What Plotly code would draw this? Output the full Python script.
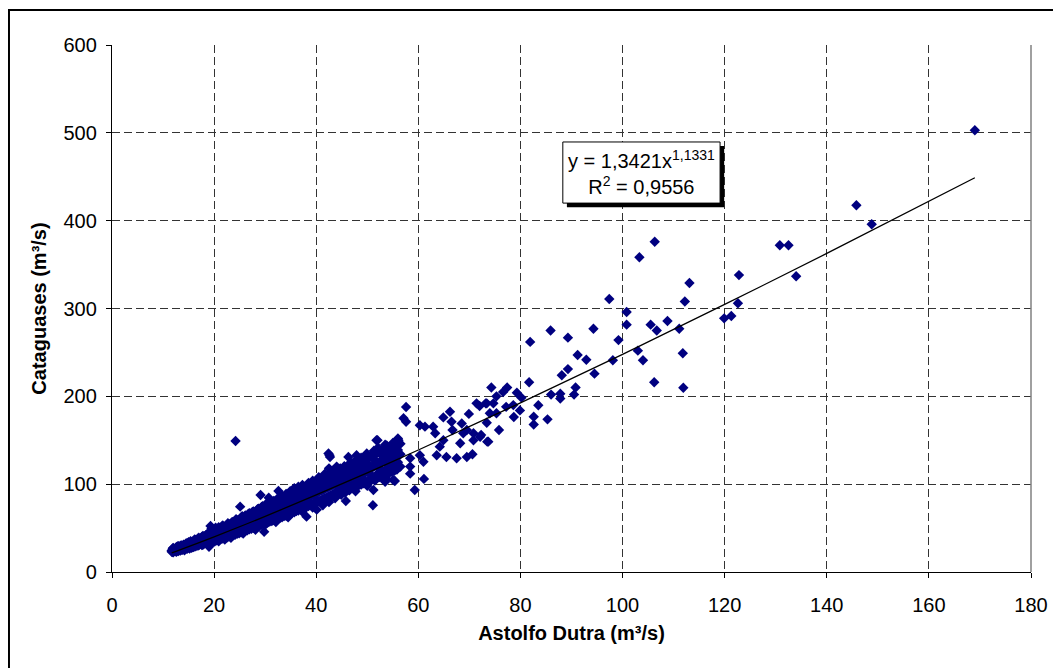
import plotly.graph_objects as go

# nuvem densa: vazão em Astolfo Dutra e as vazões lidas em Cataguases para cada uma
astolfo_nuvem = [
    11.7, 12.0, 12.4, 12.8, 13.2, 13.6, 14.0, 14.5, 15.0, 15.4, 15.8, 16.2, 16.6,
    17.0, 17.4, 17.8, 18.2, 18.6, 19.0, 19.3, 19.7, 20.1, 20.5, 20.9, 21.3, 21.7,
    22.1, 22.5, 22.9, 23.3, 23.7, 24.1, 24.5, 24.9, 25.3, 25.7, 26.1, 26.5, 26.9,
    27.3, 27.7, 28.1, 28.5, 28.9, 29.3, 29.7, 30.1, 30.5, 30.9, 31.3, 31.7, 32.1,
    32.5, 32.9, 33.3, 33.7, 34.1, 34.5, 34.9, 35.3, 35.7, 36.1, 36.5, 36.9, 37.3,
    37.7, 38.1, 38.5, 38.9, 39.3, 39.7, 40.1, 40.5, 40.9, 41.3, 41.7, 42.1, 42.5,
    42.9, 43.3, 43.7, 44.1, 44.5, 44.9, 45.3, 45.7, 46.1, 46.5, 46.9, 47.3, 47.7,
    48.1, 48.5, 49.0, 49.5, 50.0, 50.5, 51.0, 51.5, 52.0, 52.5, 53.0, 53.5, 54.0,
    54.5, 55.0, 55.5, 56.0, 56.5,
]
cataguases_nuvem = [
    [23.1, 24.5], [22.5, 25.8, 27.5], [23.8, 26.5], [24.6, 27.9, 29.0], [25.0, 28.3],
    [25.5, 27.0, 30.1], [26.2, 28.8, 31.0], [27.4, 30.2, 32.5], [27.9, 31.0, 33.8],
    [29.2, 32.6, 35.0], [28.7, 31.8, 34.4], [30.3, 33.5, 37.0], [31.1, 34.2, 36.1],
    [30.5, 33.0, 35.8, 39.0], [32.4, 35.1, 38.2], [31.0, 34.7, 37.5, 41.0],
    [33.1, 36.9, 40.3], [32.8, 35.5, 39.2, 43.0], [28.8, 34.4, 37.8, 41.5],
    [35.2, 39.5, 45.0, 52.4], [33.9, 36.6, 40.8, 44.0], [34.8, 38.1, 42.0, 47.5],
    [36.0, 39.4, 43.3, 49.0], [35.0, 40.2, 44.6, 51.0], [37.5, 41.1, 45.2],
    [38.2, 42.3, 46.8, 53.0], [37.0, 43.0, 47.6, 50.2], [39.3, 44.2, 48.8],
    [40.5, 45.0, 49.9, 54.5], [39.0, 46.3, 51.0], [41.8, 47.1, 52.2, 57.0],
    [42.4, 48.0, 53.5], [43.5, 49.2, 54.6, 59.0], [44.0, 50.3, 56.0],
    [45.1, 51.2, 57.3, 62.0], [43.8, 52.4, 58.5], [46.9, 53.0, 59.6, 64.5],
    [47.5, 54.1, 60.2], [48.6, 55.3, 61.8, 67.0], [49.2, 56.6, 63.0],
    [50.3, 57.4, 64.1, 69.0], [48.0, 58.5, 65.2], [51.5, 59.3, 66.4, 71.5],
    [52.6, 60.6, 67.0], [53.7, 61.4, 68.8, 74.0], [55.0, 62.5, 70.1],
    [54.2, 63.8, 71.0, 77.0], [56.4, 64.4, 72.3], [57.5, 65.7, 73.0, 79.5],
    [58.0, 66.2, 74.6], [59.2, 67.8, 75.1, 81.0], [57.0, 68.5, 76.4],
    [60.5, 69.3, 77.8, 84.0], [61.8, 70.6, 78.5], [62.4, 71.2, 80.0, 86.5],
    [63.6, 72.8, 81.3], [64.0, 73.5, 82.0, 89.0], [62.2, 74.7, 83.6],
    [66.1, 75.4, 84.2, 92.0], [67.3, 76.8, 86.0], [68.0, 78.2, 87.1, 95.5],
    [69.4, 79.0, 88.0], [70.1, 80.3, 89.5, 97.0], [71.5, 81.6, 90.2],
    [68.5, 82.4, 91.8, 99.0], [73.0, 83.7, 92.5], [74.2, 84.5, 94.0],
    [75.0, 85.8, 95.2, 101.5], [76.3, 86.4, 96.0], [73.5, 87.9, 97.8, 104.0],
    [78.0, 88.6, 99.0], [71.0, 79.2, 90.0, 100.2], [80.5, 91.3, 102.0, 108.0],
    [81.2, 92.5, 103.5], [76.0, 82.7, 93.2, 98.0], [84.0, 95.0, 105.0, 112.0],
    [85.1, 96.2, 106.5], [79.5, 86.6, 97.4, 118.0], [87.5, 98.8, 108.0],
    [88.8, 100.0, 110.5, 101.0], [84.0, 90.1, 101.3], [91.0, 102.6, 113.0],
    [92.4, 103.0, 96.0, 115.5], [88.0, 94.0, 105.5], [95.2, 106.0, 118.0],
    [90.5, 97.0, 108.3], [98.1, 109.0, 121.0], [93.0, 100.0, 111.5],
    [101.2, 113.0, 124.0], [96.0, 103.0, 115.0], [104.5, 116.0, 92.0],
    [99.0, 106.0, 118.5], [107.5, 120.0, 129.0], [101.0, 110.0, 122.0],
    [104.0, 112.5, 126.0], [98.0, 114.0, 128.0], [106.0, 116.5, 121.0],
    [109.0, 119.0, 131.0], [104.0, 121.0, 127.0], [112.0, 124.0, 141.0],
    [108.0, 126.0, 118.0], [115.0, 128.0, 133.0], [111.0, 130.0, 145.0],
    [119.0, 125.0, 137.0], [114.0, 133.0, 128.0], [122.0, 136.0, 147.0],
    [117.0, 131.0, 143.0], [125.0, 139.0, 152.0], [120.0, 134.0, 146.0],
]

# segunda leitura da nuvem, entre as colunas da primeira
astolfo_nuvem2 = [
    11.9, 12.2, 12.6, 13.0, 13.4, 13.8, 14.2, 14.7, 15.2, 15.6, 16.0, 16.4, 16.8,
    17.2, 17.6, 18.0, 18.4, 18.8, 19.1, 19.5, 19.9, 20.3, 20.7, 21.1, 21.5, 21.9,
    22.3, 22.7, 23.1, 23.5, 23.9, 24.3, 24.7, 25.1, 25.5, 25.9, 26.3, 26.7, 27.1,
    27.5, 27.9, 28.3, 28.7, 29.1, 29.5, 29.9, 30.3, 30.7, 31.1, 31.5, 31.9, 32.3,
    32.7, 33.1, 33.5, 33.9, 34.3, 34.7, 35.1, 35.5, 35.9, 36.3, 36.7, 37.1, 37.5,
    37.9, 38.3, 38.7, 39.1, 39.5, 39.9, 40.3, 40.7, 41.1, 41.5, 41.9, 42.3, 42.7,
    43.1, 43.5, 43.9, 44.3, 44.7, 45.1, 45.5, 45.9, 46.3, 46.7, 47.1, 47.5, 47.9,
    48.3, 48.8, 49.3, 49.8, 50.3, 50.8, 51.3, 51.8, 52.3, 52.8, 53.3, 53.8, 54.3,
    54.8, 55.3, 55.8,
]
cataguases_nuvem2 = [
    [22.8, 25.0, 26.8], [24.2, 26.0], [22.9, 25.3, 28.2], [23.9, 26.7, 29.5],
    [24.4, 27.6, 30.0], [25.2, 28.5, 29.0], [24.8, 27.8, 30.8], [26.3, 29.4, 32.9],
    [26.8, 30.1, 33.1], [27.5, 31.5, 34.0], [28.4, 32.2, 35.6], [29.4, 33.0, 36.5],
    [30.0, 34.8, 38.0], [31.6, 35.5, 37.0], [30.8, 36.2, 39.8], [32.2, 37.4, 40.6],
    [33.9, 38.0, 42.0], [33.0, 38.6, 43.5], [34.2, 39.8, 44.2], [35.6, 41.0, 46.0, 49.5],
    [36.4, 42.4, 46.8], [37.1, 41.8, 45.9, 50.5], [36.6, 43.7, 48.0], [38.8, 44.4, 49.2],
    [39.6, 45.8, 48.1, 52.0], [40.2, 46.0, 51.3], [41.5, 47.4, 52.4],
    [42.0, 48.5, 51.7, 55.5], [43.2, 49.4, 53.6], [42.6, 48.4, 54.3, 56.8],
    [44.9, 50.9, 55.5], [45.3, 51.7, 56.3, 60.0], [46.5, 52.6, 57.8], [47.2, 53.8, 58.6],
    [48.0, 54.8, 60.1, 63.5], [49.1, 55.4, 61.0], [49.8, 56.9, 62.5],
    [50.6, 57.6, 63.3, 66.0], [51.3, 58.9, 64.2], [52.2, 59.7, 65.5, 68.5],
    [53.1, 60.5, 66.3], [54.3, 61.9, 67.5], [54.8, 62.7, 68.9, 72.0], [55.7, 63.5, 69.8],
    [56.6, 64.8, 70.5, 74.8], [57.4, 65.6, 71.7], [58.2, 66.9, 73.2],
    [59.3, 67.4, 74.0, 77.5], [59.9, 68.6, 75.3], [60.8, 69.5, 76.1, 80.0],
    [61.6, 70.4, 77.5], [62.5, 71.7, 78.4], [63.4, 72.5, 79.6, 83.0], [64.2, 73.4, 80.7],
    [65.1, 74.6, 81.8, 85.5], [66.0, 75.5, 82.9], [66.8, 76.4, 84.0],
    [67.7, 77.5, 85.2, 88.5], [68.6, 78.6, 86.3], [69.5, 79.6, 87.2, 91.0],
    [70.4, 80.5, 88.5], [71.2, 81.6, 89.6], [72.1, 82.6, 90.8, 94.0], [73.0, 83.5, 91.9],
    [73.9, 84.7, 93.0, 96.5], [74.8, 85.6, 94.1], [75.6, 86.6, 95.2],
    [76.5, 87.6, 96.4, 100.0], [77.5, 88.7, 97.5], [78.4, 89.8, 98.6, 102.5],
    [79.2, 90.7, 99.8], [80.1, 91.7, 100.9], [81.0, 92.8, 102.0, 106.0],
    [81.9, 93.8, 103.2], [82.8, 94.8, 104.3, 109.0], [83.7, 95.9, 105.5],
    [84.6, 96.9, 106.6], [85.5, 97.9, 107.8, 112.0], [86.4, 99.0, 108.9],
    [87.4, 100.0, 110.0, 114.5], [88.3, 101.1, 111.2], [89.2, 102.1, 112.3],
    [90.1, 103.2, 113.5, 118.0], [91.0, 104.2, 114.6], [92.0, 105.3, 115.8, 120.5],
    [92.9, 106.3, 117.0], [93.8, 107.4, 118.1], [94.7, 108.4, 119.3, 123.5],
    [95.7, 109.5, 120.4], [96.6, 110.5, 121.6, 126.0], [97.5, 111.6, 122.8],
    [98.5, 112.7, 124.0], [99.7, 114.1, 125.4, 130.0], [100.9, 115.4, 127.0],
    [102.1, 116.8, 128.5, 133.0], [103.3, 118.2, 130.0], [104.5, 119.5, 131.5],
    [105.7, 120.9, 133.0, 138.0], [106.9, 122.3, 134.5], [108.1, 123.6, 136.0, 140.5],
    [109.3, 125.0, 137.5], [110.5, 126.4, 139.0], [111.7, 127.7, 140.5, 144.0],
    [112.9, 129.1, 142.0], [114.1, 130.5, 143.5], [115.3, 131.8, 145.0],
    [116.5, 133.2, 146.5],
]

# pontos isolados (Astolfo Dutra, Cataguases)
pontos_dispersos = [
    (24.2, 149.2), (25.1, 74.4), (29.1, 87.7), (30.7, 84.6), (32.6, 92.2), (29.8, 45.9),
    (38.1, 63.0), (42.4, 135.0), (42.7, 131.0), (46.3, 131.0), (47.9, 133.0), (48.2, 125.6),
    (51.8, 150.0), (55.8, 149.5), (55.1, 140.8), (51.1, 76.0), (45.8, 80.8), (55.1, 104.7),
    (53.5, 102.8), (44.0, 120.0), (51.2, 93.4), (53.7, 106.7), (55.4, 103.6), (42.6, 133.0),
    (49.9, 135.0), (52.0, 150.0), (56.1, 150.0), (51.2, 135.0), (53.8, 137.0),
    (57.6, 187.9), (57.1, 175.0), (57.6, 171.0), (60.3, 167.0), (61.3, 165.5), (62.9, 165.5),
    (63.3, 158.0), (66.5, 171.0), (68.5, 169.0), (66.7, 161.7), (68.8, 158.0), (70.8, 158.0),
    (70.8, 150.0), (72.1, 154.0), (73.7, 148.4), (63.6, 133.0), (65.5, 131.0), (67.5, 129.5),
    (69.5, 131.0), (70.6, 134.0), (64.2, 142.7), (64.9, 150.0), (68.2, 146.5), (69.5, 161.7),
    (60.3, 133.0), (61.0, 125.6), (58.4, 129.5), (58.4, 120.0), (58.4, 112.0), (59.3, 93.4),
    (61.1, 106.0), (64.9, 176.0), (66.2, 182.5), (69.9, 180.0), (71.4, 192.0), (72.0, 189.0),
    (73.2, 192.0), (74.3, 210.0), (75.3, 200.0), (76.6, 205.0), (77.4, 210.0), (74.7, 192.0),
    (73.4, 192.0), (74.0, 180.7), (75.3, 180.7), (73.4, 170.0), (75.8, 161.7), (73.5, 148.4),
    (72.3, 156.0), (78.6, 190.0), (77.2, 188.0), (79.3, 204.0), (80.2, 198.5), (79.9, 184.0),
    (78.7, 176.5), (81.7, 216.0), (81.9, 262.0), (82.6, 176.8), (82.6, 168.0), (83.5, 189.8),
    (85.3, 173.8), (86.0, 202.0), (87.8, 203.0), (87.8, 197.4), (90.5, 202.0), (90.8, 210.0),
    (88.1, 224.0), (89.3, 231.0), (94.5, 225.8), (91.2, 247.0), (92.9, 241.7), (85.9, 275.0),
    (89.3, 266.8), (94.3, 277.0), (97.4, 310.8), (98.1, 241.0), (99.2, 264.0), (100.8, 296.0),
    (100.8, 281.6), (103.3, 358.3), (106.3, 376.0), (103.0, 252.0), (104.0, 241.0),
    (105.5, 281.6), (106.7, 275.0), (106.2, 216.0), (108.8, 285.8), (111.1, 277.0),
    (111.8, 249.0), (111.9, 209.8), (112.2, 308.0), (113.1, 329.0), (119.9, 288.8),
    (121.3, 291.5), (122.6, 306.0), (122.8, 338.0), (130.8, 372.0), (132.5, 372.0),
    (134.0, 336.7), (145.8, 417.5), (148.8, 396.0), (169.0, 503.0),
]

# linha de tendência potencial
tendencia_x = [11.7, 15, 20, 30, 40, 50, 60, 80, 100, 120, 140, 169]
tendencia_y = [21.8, 28.9, 40.0, 63.3, 87.7, 112.9, 138.9, 192.5, 247.8, 304.7, 362.7, 448.9]

x_ticks = [0, 20, 40, 60, 80, 100, 120, 140, 160, 180]
y_ticks = [0, 100, 200, 300, 400, 500, 600]

xs, ys = [], []
for xl, yl in ((astolfo_nuvem, cataguases_nuvem), (astolfo_nuvem2, cataguases_nuvem2)):
    for xv, lista in zip(xl, yl):
        for yv in lista:
            xs.append(xv)
            ys.append(yv)
for xv, yv in pontos_dispersos:
    xs.append(xv)
    ys.append(yv)

fonte = "Liberation Sans, Arial, sans-serif"

fig = go.Figure()
fig.add_trace(go.Scatter(
    x=xs, y=ys, mode="markers",
    marker=dict(symbol="diamond", size=8, color="#000080", line=dict(width=0)),
    showlegend=False, hoverinfo="skip",
))
fig.add_trace(go.Scatter(
    x=tendencia_x, y=tendencia_y, mode="lines", line=dict(color="black", width=1.3, shape="spline"),
    showlegend=False, hoverinfo="skip",
))

eixo = dict(
    showline=True, linecolor="black", linewidth=1.3,
    ticks="outside", ticklen=5, tickcolor="black", tickwidth=1,
    showgrid=True, gridcolor="#333333", gridwidth=1, griddash="8px,4px",
    zeroline=False, tickfont=dict(family=fonte, size=20, color="black"),
)

fig.update_xaxes(eixo, range=[0, 180], tickvals=x_ticks, ticklabelstandoff=10,
                 title=dict(text="<b>Astolfo Dutra (m³/s)</b>", font=dict(family=fonte, size=20, color="black"), standoff=10))
fig.update_yaxes(eixo, range=[0, 600], tickvals=y_ticks, ticklabelstandoff=5,
                 title=dict(text="<b>Cataguases (m³/s)</b>", font=dict(family=fonte, size=20, color="black"), standoff=11))

# caixa da equação com sombra
fig.add_shape(type="rect", xref="x", yref="y", x0=89.1, x1=119.9, y0=415.4, y1=485.0,
              fillcolor="black", line=dict(width=0), layer="above")
fig.add_shape(type="rect", xref="x", yref="y", x0=88.3, x1=119.1, y0=420.0, y1=489.6,
              fillcolor="white", line=dict(color="black", width=1), layer="above")
fig.add_annotation(x=103.7, y=455, xref="x", yref="y", showarrow=False, align="center",
                   text="y = 1,3421x<sup>1,1331</sup><br>R<sup>2</sup> = 0,9556",
                   font=dict(family=fonte, size=20, color="black"))

# borda direita da área de plotagem e moldura externa
fig.add_shape(type="line", xref="paper", yref="paper", x0=1, x1=1, y0=0, y1=1,
              line=dict(color="#808080", width=1.5))
fig.add_shape(type="rect", xref="paper", yref="paper", x0=-0.1121, x1=1.1, y0=-0.3, y1=1.0664,
              line=dict(color="black", width=2), fillcolor="rgba(0,0,0,0)")

# a página desloca a figura em 8 px, por isso as margens já descontam esse recuo
fig.update_layout(
    width=1053, height=660,
    margin=dict(l=104, r=30, t=37, b=96),
    paper_bgcolor="white", plot_bgcolor="white",
    font=dict(family=fonte, color="black"),
)

fig.write_html("out.html")
